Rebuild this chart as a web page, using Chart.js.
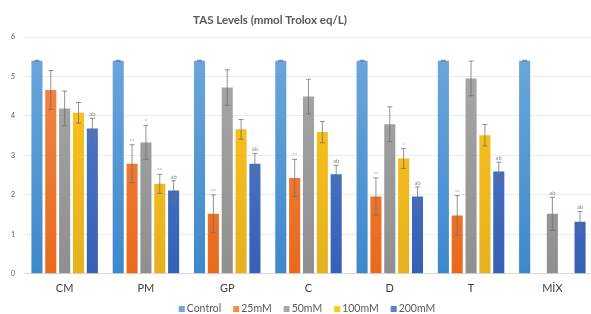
<!DOCTYPE html>
<html>
<head>
<meta charset="utf-8">
<script src="https://cdn.jsdelivr.net/npm/chart.js@4.4.1/dist/chart.umd.min.js"></script>
<style>
  html, body { margin: 0; padding: 0; background: #fff; overflow: hidden; }
  #wrap { width: 594px; height: 314px; position: relative; }
</style>
</head>
<body>
<div id="wrap"><canvas id="chart"></canvas></div>
<script>
const CATEGORIES = ['CM', 'PM', 'GP', 'C', 'D', 'T', 'MİX'];
const SERIES = ['Control', '25mM', '50mM', '100mM', '200mM'];

const control = [5.4, 5.4, 5.4, 5.4, 5.4, 5.4, 5.4];
const mM25 = [4.66, 2.79, 1.52, 2.43, 1.96, 1.48, null];
const mM50 = [4.19, 3.33, 4.72, 4.49, 3.79, 4.95, 1.52];
const mM100 = [4.08, 2.28, 3.66, 3.59, 2.92, 3.51, null];
const mM200 = [3.68, 2.11, 2.79, 2.52, 1.96, 2.59, 1.32];

const errControl = [0.01, 0.01, 0.01, 0.01, 0.01, 0.01, 0.01];
const err25 = [0.49, 0.48, 0.48, 0.47, 0.47, 0.5, null];
const err50 = [0.44, 0.43, 0.45, 0.44, 0.44, 0.44, 0.42];
const err100 = [0.26, 0.24, 0.25, 0.27, 0.25, 0.27, null];
const err200 = [0.26, 0.25, 0.26, 0.23, 0.24, 0.24, 0.26];

const marksControl = ['', '', '', '', '', '', ''];
const marks25 = ['', '**', '**', '**', '**', '**', ''];
const marks50 = ['', '*', '', '', '', '', 'ab'];
const marks100 = ['', '**', '', '', '*', '', ''];
const marks200 = ['ab', 'ab', 'ab', 'ab', 'ab', 'ab', 'ab'];

const Y_TICKS = [0, 1, 2, 3, 4, 5, 6];

// light top, darker bottom, like the office gradient fill
const COLORS = [
  ['#6fa8dc', '#3d88cc'],
  ['#f4894a', '#e86a1c'],
  ['#aaaaaa', '#8f8f8f'],
  ['#ffc819', '#e6b020'],
  ['#5b82cc', '#3560b4'],
];
const FONT = 'Lato, "Open Sans", sans-serif';

function gradientFill(idx) {
  return function (ctx) {
    const area = ctx.chart.chartArea;
    if (!area) return COLORS[idx][0];
    const g = ctx.chart.ctx.createLinearGradient(0, area.top, 0, area.bottom);
    g.addColorStop(0, COLORS[idx][0]);
    g.addColorStop(1, COLORS[idx][1]);
    return g;
  };
}

const values = [control, mM25, mM50, mM100, mM200];
const errors = [errControl, err25, err50, err100, err200];
const marks = [marksControl, marks25, marks50, marks100, marks200];

const errorBars = {
  id: 'errorBars',
  afterDatasetsDraw(chart) {
    const { ctx } = chart;
    const y = chart.scales.y;
    ctx.save();
    chart.data.datasets.forEach((ds, i) => {
      const meta = chart.getDatasetMeta(i);
      meta.data.forEach((bar, j) => {
        const v = values[i][j];
        const e = errors[i][j];
        if (v == null || e == null) return;
        const x = bar.x;
        const top = y.getPixelForValue(v + e);
        const bot = y.getPixelForValue(v - e);
        ctx.strokeStyle = 'rgba(110,110,110,0.75)';
        ctx.lineWidth = 1;
        ctx.beginPath();
        ctx.moveTo(x, top);
        ctx.lineTo(x, bot);
        ctx.moveTo(x - 2.5, top);
        ctx.lineTo(x + 2.5, top);
        ctx.moveTo(x - 2.5, bot);
        ctx.lineTo(x + 2.5, bot);
        ctx.stroke();
        const m = marks[i][j];
        if (m) {
          ctx.fillStyle = '#8a8a8a';
          ctx.font = '6px ' + FONT;
          ctx.textAlign = 'center';
          ctx.textBaseline = 'bottom';
          ctx.fillText(m, x, top - 1);
        }
      });
    });
    ctx.restore();
  },
};

// title and legend drawn by hand so they sit where the original has them
const titleAndLegend = {
  id: 'titleAndLegend',
  afterDraw(chart) {
    const { ctx } = chart;
    ctx.save();
    ctx.fillStyle = '#595959';
    ctx.font = 'bold 11.5px ' + FONT;
    ctx.textAlign = 'center';
    ctx.textBaseline = 'middle';
    ctx.fillText('TAS Levels (mmol Trolox eq/L)', 270, 20);

    ctx.font = '10.5px ' + FONT;
    ctx.textAlign = 'left';
    const box = 6, gapBox = 2, gapItem = 12;
    const widths = SERIES.map(s => box + gapBox + ctx.measureText(s).width);
    const total = widths.reduce((a, b) => a + b, 0) + gapItem * (SERIES.length - 1);
    let x = 307 - total / 2;
    const yc = 309;
    SERIES.forEach((s, i) => {
      ctx.fillStyle = COLORS[i][0];
      ctx.fillRect(x, yc - box / 2, box, box);
      ctx.fillStyle = '#595959';
      ctx.fillText(s, x + box + gapBox, yc);
      x += widths[i] + gapItem;
    });
    ctx.restore();
  },
};

new Chart(document.getElementById('chart'), {
  type: 'bar',
  data: {
    labels: CATEGORIES,
    datasets: SERIES.map((name, i) => ({
      label: name,
      data: values[i],
      backgroundColor: gradientFill(i),
      borderWidth: 0,
      categoryPercentage: 0.852,
      barPercentage: 0.8,
    })),
  },
  options: {
    responsive: true,
    maintainAspectRatio: false,
    animation: false,
    layout: { padding: { top: 37, left: 10, right: 1, bottom: 19 } },
    plugins: {
      title: { display: false },
      tooltip: { enabled: false },
      legend: { display: false },
    },
    scales: {
      x: {
        grid: { display: false },
        border: { color: '#d9d9d9' },
        ticks: { color: '#404040', font: { family: FONT, size: 11 }, padding: 0 },
      },
      y: {
        min: 0,
        max: 6,
        afterBuildTicks(scale) {
          scale.ticks = Y_TICKS.map(v => ({ value: v }));
        },
        afterFit(scale) {
          scale.width = 14;
        },
        grid: { color: '#ececec', drawTicks: false },
        border: { display: false },
        ticks: { color: '#595959', font: { family: FONT, size: 7 }, padding: 9 },
      },
    },
  },
  plugins: [errorBars, titleAndLegend],
});
</script>
</body>
</html>
